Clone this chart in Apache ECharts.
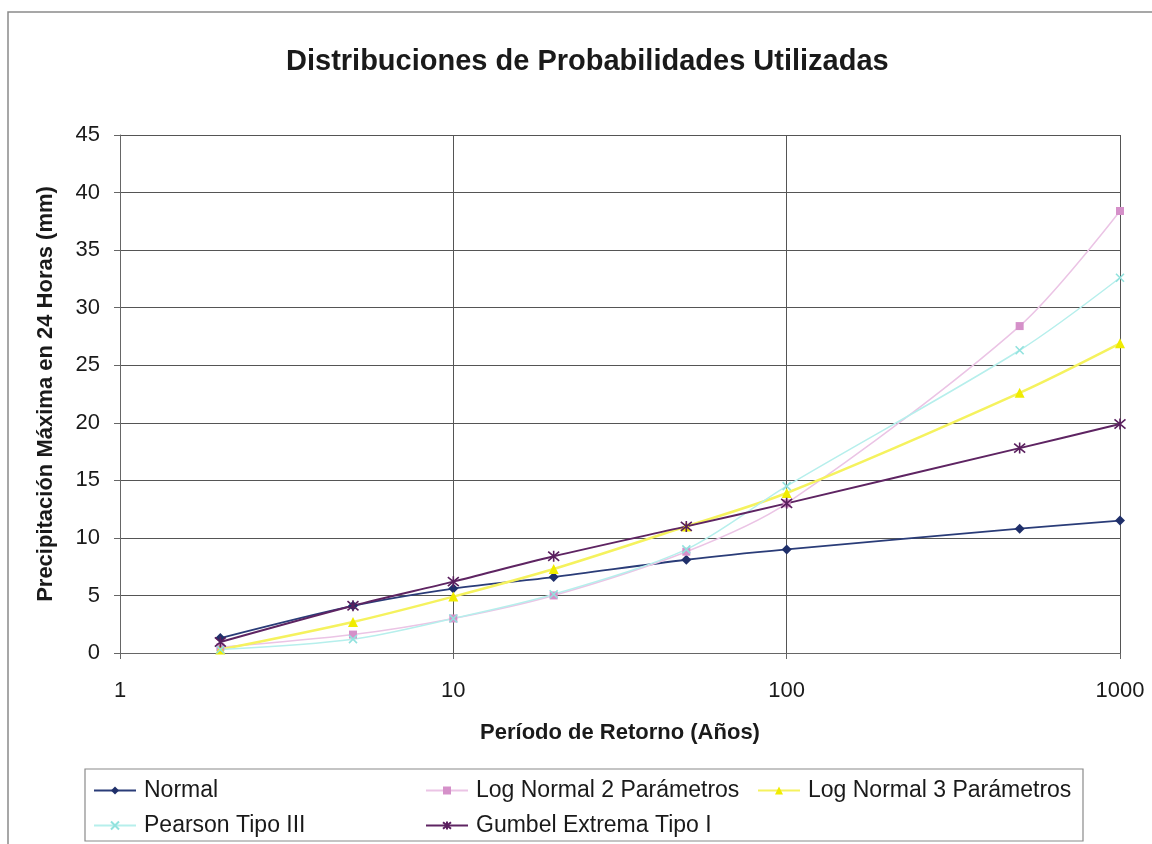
<!DOCTYPE html>
<html>
<head>
<meta charset="utf-8">
<script src="https://cdn.jsdelivr.net/npm/echarts@6/dist/echarts.min.js"></script>
<style>
html,body{margin:0;padding:0;background:#fff;}
#chart{width:1152px;height:844px;}
</style>
</head>
<body>
<div id="chart"></div>
<script>
const periods = [2, 5, 10, 20, 50, 100, 500, 1000];
const normal = [1.3, 4.1, 5.6, 6.6, 8.1, 9.0, 10.8, 11.5];
const logNormal2 = [0.5, 1.6, 3.0, 5.0, 8.8, 13.0, 28.4, 38.4];
const logNormal3 = [0.3, 2.7, 4.9, 7.3, 11.0, 13.9, 22.6, 26.9];
const pearson3 = [0.3, 1.2, 3.0, 5.1, 9.0, 14.5, 26.3, 32.6];
const gumbel = [0.95, 4.1, 6.2, 8.4, 11.0, 13.0, 17.8, 19.9];
const seriesNames = ['Normal', 'Log Normal 2 Parámetros', 'Log Normal 3 Parámetros', 'Pearson Tipo III', 'Gumbel Extrema Tipo I'];
const xTickLabels = ['1', '10', '100', '1000'];

const FONT = '"Liberation Sans", Arial, sans-serif';
const pairs = vals => periods.map((p, i) => [p, vals[i]]);

const xShape = 'path://M0,0L10,10M10,0L0,10';
const starShape = 'path://M0,0L10,10M10,0L0,10M5,-1L5,11';

function mkSeries(name, vals, lineColor, markColor, symbol, size, width, strokeSym) {
  return {
    name: name,
    type: 'line',
    data: pairs(vals),
    smooth: 0.3,
    symbol: symbol,
    symbolSize: size,
    showAllSymbol: true,
    lineStyle: { color: lineColor, width: width },
    itemStyle: strokeSym
      ? { color: 'rgba(0,0,0,0)', borderColor: markColor, borderWidth: 1.6 }
      : { color: markColor, borderWidth: 0 },
    emphasis: { disabled: true },
    z: 3
  };
}

const chart = echarts.init(document.getElementById('chart'));

const legendBase = {
  itemWidth: 42,
  itemHeight: 10,
  textStyle: { fontFamily: FONT, fontSize: 23, color: '#1a1a1a', padding: [0, 0, 0, 3] },
  padding: 0,
  selectedMode: false
};
const legendPos = [
  [93, 779], [425, 779], [757, 779], [93, 814], [425, 814]
];

chart.setOption({
  animation: false,
  backgroundColor: '#fff',
  title: {
    text: 'Distribuciones de Probabilidades Utilizadas',
    left: 281,
    top: 42,
    textStyle: { fontFamily: FONT, fontSize: 29, fontWeight: 'bold', color: '#1a1a1a' }
  },
  graphic: [
    { type: 'rect', shape: { x: 8, y: 12, width: 1160, height: 850 },
      style: { fill: 'none', stroke: '#8a8a8a', lineWidth: 1.5 }, silent: true },
    { type: 'rect', shape: { x: 85, y: 769, width: 998, height: 72 },
      style: { fill: 'none', stroke: '#8a8a8a', lineWidth: 1.2 }, silent: true }
  ],
  legend: seriesNames.map((n, i) => Object.assign({}, legendBase, {
    data: [n], left: legendPos[i][0], top: legendPos[i][1]
  })),
  grid: { left: 120, right: 32, top: 135, bottom: 191, containLabel: false },
  xAxis: {
    type: 'log',
    logBase: 10,
    min: 1,
    max: 1000,
    name: 'Período de Retorno (Años)',
    nameLocation: 'middle',
    nameGap: 69,
    nameTextStyle: { fontFamily: FONT, fontSize: 22, fontWeight: 'bold', color: '#1a1a1a' },
    axisLine: { show: true, lineStyle: { color: '#666', width: 1 } },
    axisTick: { show: true, length: 6, lineStyle: { color: '#666' } },
    axisLabel: {
      margin: 27,
      fontFamily: FONT, fontSize: 22, color: '#1a1a1a',
      formatter: function (v) {
        const idx = Math.round(Math.log10(v));
        return xTickLabels[idx] !== undefined ? xTickLabels[idx] : '';
      }
    },
    splitLine: { show: true, lineStyle: { color: '#555', width: 1 } },
    minorTick: { show: false },
    minorSplitLine: { show: false }
  },
  yAxis: {
    type: 'value',
    min: 0,
    max: 45,
    interval: 5,
    name: 'Precipitación Máxima en 24 Horas (mm)',
    nameLocation: 'middle',
    nameGap: 63,
    nameRotate: 90,
    nameTextStyle: { fontFamily: FONT, fontSize: 22, fontWeight: 'bold', color: '#1a1a1a' },
    axisLine: { show: true, lineStyle: { color: '#666', width: 1 } },
    axisTick: { show: true, length: 6, inside: false, lineStyle: { color: '#666' } },
    axisLabel: { margin: 20, fontFamily: FONT, fontSize: 22, color: '#1a1a1a' },
    splitLine: { show: true, lineStyle: { color: '#555', width: 1 } }
  },
  series: [
    mkSeries(seriesNames[0], normal, '#2a3c78', '#1f2f6a', 'diamond', 10, 1.8, false),
    mkSeries(seriesNames[1], logNormal2, '#ebc4e5', '#d590c9', 'rect', 8, 1.5, false),
    mkSeries(seriesNames[2], logNormal3, '#f5f25e', '#f0ec00', 'triangle', 10, 2.5, false),
    mkSeries(seriesNames[3], pearson3, '#b6efec', '#92e2de', xShape, 8, 1.5, true),
    mkSeries(seriesNames[4], gumbel, '#5e2462', '#5a1f5e', starShape, 11, 2, true)
  ]
});
</script>
</body>
</html>
